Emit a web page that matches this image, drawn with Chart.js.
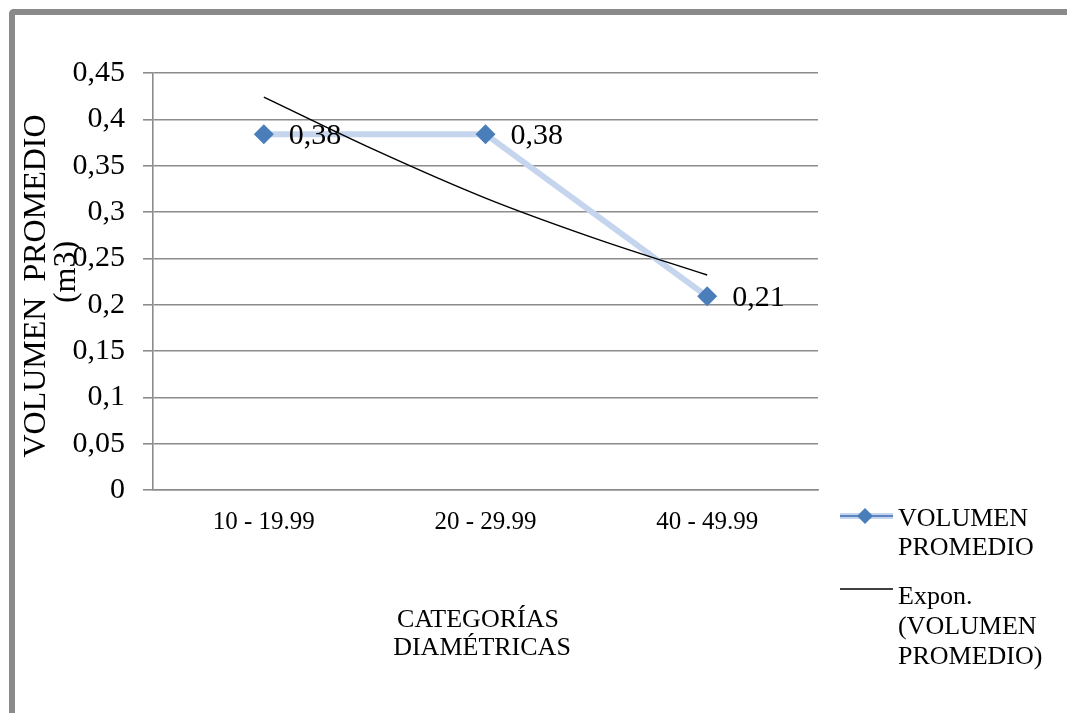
<!DOCTYPE html>
<html lang="es">
<head>
<meta charset="utf-8">
<title>Volumen promedio por categoría diamétrica</title>
<script src="https://cdn.jsdelivr.net/npm/chart.js@4.4.1/dist/chart.umd.min.js"></script>
<style>
  html, body { margin: 0; padding: 0; background: #fff; }
  #wrap { position: relative; width: 1067px; height: 713px; overflow: hidden; background: #fff; }
  #frame {
    position: absolute; left: 9px; top: 9px; width: 1120px; height: 780px;
    border-top: 6px solid #8a8a8a; border-left: 6px solid #8a8a8a;
    border-top-left-radius: 5px; box-sizing: border-box;
  }
  #c { position: absolute; left: 0; top: 0; }
</style>
</head>
<body>
<div id="wrap">
  <div id="frame"></div>
  <canvas id="c" width="1067" height="713"></canvas>
</div>
<script>
// Diameter classes and average volume per class (m3)
const categories = ['10 - 19.99', '20 - 29.99', '40 - 49.99'];
const volumenPromedio = [0.384, 0.384, 0.209];

// Exponential trend line, sampled along the category positions (1..3)
const trendX = [1, 1.5, 2, 2.5, 3];
const trendY = [0.424, 0.367, 0.315, 0.271, 0.232];

// Value axis ticks
const yTickValues = [0, 0.05, 0.1, 0.15, 0.2, 0.25, 0.3, 0.35, 0.4, 0.45];
const yTickLabels = ['0', '0,05', '0,1', '0,15', '0,2', '0,25', '0,3', '0,35', '0,4', '0,45'];

const seriesName = 'VOLUMEN PROMEDIO';
const trendName = 'Expon. (VOLUMEN PROMEDIO)';

const FONT = "'Liberation Serif', 'Times New Roman', serif";
const GRID = '#8c8c8c';
const LINE_BLUE = '#c6d5ee';
const MARK_BLUE = '#4a7ebb';

const fmt = v => v.toFixed(2).replace('.', ',');

function diamond(ctx, x, y, r, color) {
  ctx.beginPath();
  ctx.moveTo(x, y - r);
  ctx.lineTo(x + r, y);
  ctx.lineTo(x, y + r);
  ctx.lineTo(x - r, y);
  ctx.closePath();
  ctx.fillStyle = color;
  ctx.fill();
}

// Value labels, axis titles and the right-hand legend
const decorations = {
  id: 'decorations',
  afterDatasetsDraw(chart) {
    const ctx = chart.ctx;
    const meta = chart.getDatasetMeta(0);
    ctx.save();
    ctx.font = '30px ' + FONT;
    ctx.fillStyle = '#000';
    ctx.textAlign = 'left';
    ctx.textBaseline = 'middle';
    meta.data.forEach((pt, i) => {
      ctx.fillText(fmt(volumenPromedio[i]), pt.x + 25, pt.y + 2);
    });
    ctx.restore();
  },
  afterDraw(chart) {
    const ctx = chart.ctx;
    ctx.save();
    ctx.fillStyle = '#000';

    // value axis title (rotated)
    ctx.font = '32px ' + FONT;
    ctx.textAlign = 'center';
    ctx.textBaseline = 'middle';
    ctx.save();
    ctx.translate(37, 286);
    ctx.rotate(-Math.PI / 2);
    ctx.fillText('VOLUMEN  PROMEDIO', 0, 0);
    ctx.restore();
    ctx.save();
    ctx.translate(67, 272);
    ctx.rotate(-Math.PI / 2);
    ctx.fillText('(m3)', 0, 0);
    ctx.restore();

    // category axis title
    ctx.font = '26px ' + FONT;
    ctx.fillText('CATEGORÍAS', 478, 620);
    ctx.fillText('DIAMÉTRICAS', 482, 648);

    // legend
    ctx.textAlign = 'left';
    ctx.lineCap = 'butt';
    ctx.strokeStyle = LINE_BLUE;
    ctx.lineWidth = 6;
    ctx.beginPath(); ctx.moveTo(840, 516); ctx.lineTo(893, 516); ctx.stroke();
    ctx.strokeStyle = '#5b84c0';
    ctx.lineWidth = 2;
    ctx.beginPath(); ctx.moveTo(840, 516); ctx.lineTo(893, 516); ctx.stroke();
    diamond(ctx, 865, 516, 8, MARK_BLUE);
    ctx.fillStyle = '#000';
    ctx.font = '26px ' + FONT;
    ctx.fillText('VOLUMEN', 898, 519);
    ctx.fillText('PROMEDIO', 898, 548);

    ctx.strokeStyle = '#000';
    ctx.lineWidth = 1.5;
    ctx.beginPath(); ctx.moveTo(840, 589); ctx.lineTo(893, 589); ctx.stroke();
    ctx.fillText('Expon.', 898, 597);
    ctx.fillText('(VOLUMEN', 898, 627);
    ctx.fillText('PROMEDIO)', 898, 657);

    ctx.restore();
  }
};

Chart.defaults.font.family = FONT;
Chart.defaults.color = '#000';

new Chart(document.getElementById('c'), {
  type: 'line',
  data: {
    labels: categories,
    datasets: [
      {
        label: seriesName,
        data: volumenPromedio,
        order: 1,
        borderColor: LINE_BLUE,
        borderWidth: 6,
        tension: 0,
        pointStyle: 'rectRot',
        pointRadius: 10,
        pointHoverRadius: 10,
        pointBackgroundColor: MARK_BLUE,
        pointBorderWidth: 0,
        fill: false
      },
      {
        label: trendName,
        data: trendX.map((x, i) => ({ x, y: trendY[i] })),
        xAxisID: 'xt',
        order: 0,
        borderColor: '#000',
        borderWidth: 1.5,
        cubicInterpolationMode: 'monotone',
        pointRadius: 0,
        fill: false
      }
    ]
  },
  options: {
    responsive: false,
    animation: false,
    devicePixelRatio: 1,
    layout: { padding: { top: 73, right: 249, bottom: 0, left: 0 } },
    plugins: { legend: { display: false }, tooltip: { enabled: false } },
    scales: {
      x: {
        type: 'category',
        offset: true,
        grid: { display: false, drawTicks: false },
        border: { display: true, color: GRID, width: 1.6 },
        ticks: { font: { size: 25 }, color: '#000', padding: 17, maxRotation: 0 },
        afterFit: s => { s.height = 223; }
      },
      xt: {
        type: 'linear',
        display: false,
        min: 0.5,
        max: 3.5
      },
      y: {
        min: 0,
        max: 0.45,
        afterBuildTicks: s => { s.ticks = yTickValues.map(v => ({ value: v })); },
        grid: { color: GRID, lineWidth: 1.6, tickLength: 10, drawTicks: true },
        border: { display: true, color: GRID, width: 1.6 },
        ticks: {
          font: { size: 30 },
          color: '#000',
          padding: 18,
          callback: (v, i) => yTickLabels[i]
        },
        afterFit: s => { s.width = 153; }
      }
    }
  },
  plugins: [decorations]
});
</script>
</body>
</html>
